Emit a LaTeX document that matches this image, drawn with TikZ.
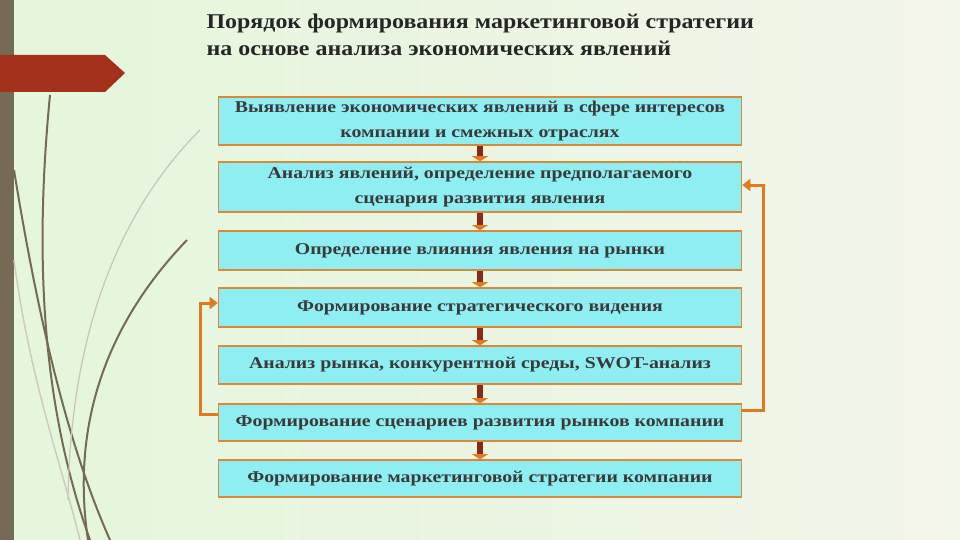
\documentclass[tikz,border=0pt]{standalone}
\usepackage{fontspec}
\setmainfont{Liberation Serif}
\usetikzlibrary{arrows.meta}
\definecolor{bg}{HTML}{EAEEDA}
\definecolor{strip}{HTML}{756B55}
\definecolor{banner}{HTML}{A3301A}
\definecolor{boxfill}{HTML}{8EEEF2}
\definecolor{boxline}{HTML}{D9893A}
\definecolor{loopc}{HTML}{E07A1E}
\definecolor{txt}{HTML}{3A3A3A}
\definecolor{stem}{HTML}{8B2A14}
\tikzset{
 stepbox/.style={draw=boxline,line width=1.6pt,fill=boxfill,minimum width=523pt,align=center,font=\bfseries\fontsize{16.5}{25}\selectfont,text=txt,inner sep=2pt},
 link/.style={draw=stem,line width=6pt,-{Triangle[length=5pt,width=16pt,color=loopc]}},
 loop/.style={draw=loopc,line width=3pt,-{Triangle[length=8pt,width=12pt]}},
 grass/.style={draw=strip,line width=2pt}
}
\begin{document}
\begin{tikzpicture}[x=1pt,y=-1pt]
\useasboundingbox (0,0) rectangle (960,540);
\shade[left color=bg!90!green!60!white,right color=bg!60!white] (0,0) rectangle (960,540);
\fill[strip] (0,0) rectangle (14,540);
\fill[banner] (0,55) -- (105,55) -- (125,73) -- (105,92) -- (0,92) -- cycle;
% grass
\draw[grass] (50,95) .. controls (35,250) and (40,400) .. (90,540);
\draw[grass] (14,170) .. controls (40,330) and (70,450) .. (110,540);
\draw[grass] (187,240) .. controls (110,320) and (70,420) .. (88,540);
\draw[draw=strip!40,line width=1.2pt] (200,130) .. controls (110,220) and (70,350) .. (68,500);
\draw[draw=strip!35,line width=1.5pt] (14,260) .. controls (30,380) and (60,460) .. (80,540);
% title
\node[anchor=north west,align=left,font=\bfseries\fontsize{21}{27}\selectfont,text=black!85] (title) at (203,10) {\addfontfeature{FakeStretch=1.14}Порядок формирования маркетинговой стратегии\\\addfontfeature{FakeStretch=1.14}на основе анализа экономических явлений};
% boxes
\node[stepbox,minimum height=48pt] (b1) at (480,121) {\addfontfeature{FakeStretch=1.2}Выявление экономических явлений в сфере интересов\\\addfontfeature{FakeStretch=1.2}компании и смежных отраслях};
\node[stepbox,minimum height=50pt] (b2) at (480,187) {\addfontfeature{FakeStretch=1.2}Анализ явлений, определение предполагаемого\\\addfontfeature{FakeStretch=1.2}сценария развития явления};
\node[stepbox,minimum height=39pt] (b3) at (480,250.5) {\addfontfeature{FakeStretch=1.2}Определение влияния явления на рынки};
\node[stepbox,minimum height=39pt] (b4) at (480,307.5) {\addfontfeature{FakeStretch=1.2}Формирование стратегического видения};
\node[stepbox,minimum height=38pt] (b5) at (480,365) {\addfontfeature{FakeStretch=1.2}Анализ рынка, конкурентной среды, SWOT-анализ};
\node[stepbox,minimum height=37pt] (b6) at (480,422.5) {\addfontfeature{FakeStretch=1.2}Формирование сценариев развития рынков компании};
\node[stepbox,minimum height=37pt] (b7) at (480,478.5) {\addfontfeature{FakeStretch=1.2}Формирование маркетинговой стратегии компании};
\foreach \a/\b in {b1/b2,b2/b3,b3/b4,b4/b5,b5/b6,b6/b7}
  \draw[link] (\a.south) -- (\b.north);
% loops
\coordinate (l1) at (200,414);
\coordinate (l2) at (200,303);
\draw[loop] (b6.west |- l1) -- (l1) -- (l2) -- (b4.west |- l2);
\coordinate (r1) at (763,410);
\coordinate (r2) at (763,185);
\draw[loop] (b6.east |- r1) -- (r1) -- (r2) -- (b2.east |- r2);
\end{tikzpicture}
\end{document}
